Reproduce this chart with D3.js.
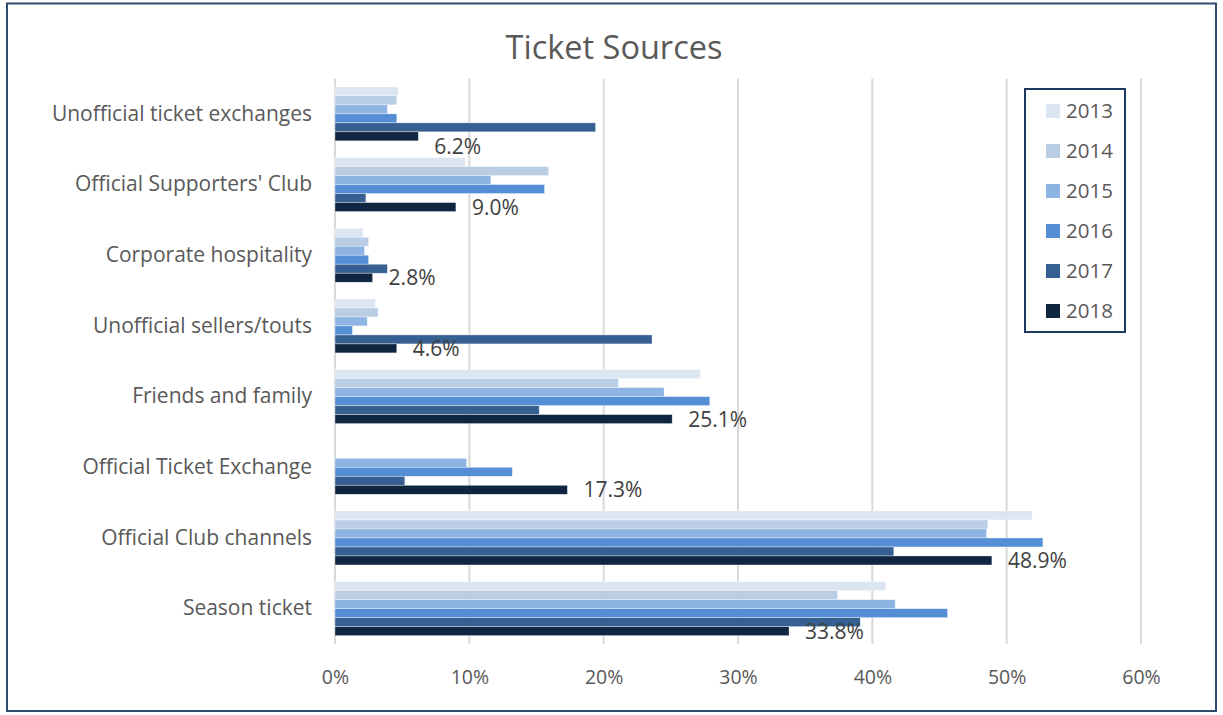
<!DOCTYPE html>
<html>
<head>
<meta charset="utf-8">
<script src="https://cdn.jsdelivr.net/npm/d3@7"></script>
<style>
  html, body { margin: 0; padding: 0; background: #fff; }
  svg { display: block; font-family: "Open Sans", "Noto Sans", sans-serif; }
</style>
</head>
<body>
<svg id="chart" width="1223" height="715"></svg>
<script>
// Ticket source shares by year (percent of respondents)
const categories = [
  "Unofficial ticket exchanges",
  "Official Supporters' Club",
  "Corporate hospitality",
  "Unofficial sellers/touts",
  "Friends and family",
  "Official Ticket Exchange",
  "Official Club channels",
  "Season ticket"
];
const years = ["2013", "2014", "2015", "2016", "2017", "2018"];
const values2013 = [4.7, 9.7, 2.1, 3.0, 27.2, null, 51.9, 41.0];
const values2014 = [4.6, 15.9, 2.5, 3.2, 21.1, null, 48.6, 37.4];
const values2015 = [3.9, 11.6, 2.2, 2.4, 24.5, 9.8, 48.5, 41.7];
const values2016 = [4.6, 15.6, 2.5, 1.3, 27.9, 13.2, 52.7, 45.6];
const values2017 = [19.4, 2.3, 3.9, 23.6, 15.2, 5.2, 41.6, 39.1];
const values2018 = [6.2, 9.0, 2.8, 4.6, 25.1, 17.3, 48.9, 33.8];
const tickValues = [0, 10, 20, 30, 40, 50, 60];
const colors = ["#DCE6F2", "#B9CDE5", "#8EB4E3", "#558ED5", "#366092", "#10253F"];

const seriesValues = [values2013, values2014, values2015, values2016, values2017, values2018];
const series = years.map((yr, i) => ({ year: yr, color: colors[i], values: seriesValues[i] }));

const svg = d3.select("#chart");

// Chart frame
svg.append("rect")
  .attr("x", 7).attr("y", 3.5)
  .attr("width", 1209).attr("height", 707.5)
  .attr("fill", "#fff")
  .attr("stroke", "#2F4B6E")
  .attr("stroke-width", 2);

// Title
svg.append("text")
  .attr("x", 614).attr("y", 59)
  .attr("text-anchor", "middle")
  .attr("fill", "#595959")
  .attr("font-size", 32.5)
  .text("Ticket Sources");

const plot = { left: 335, right: 1141, top: 78.5, bottom: 644 };

const x = d3.scaleLinear().domain([0, 60]).range([plot.left, plot.right]);
const y = d3.scaleBand().domain(categories).range([plot.top, plot.bottom])
  .paddingInner(0.236).paddingOuter(0.118);
const yInner = d3.scaleBand().domain(years).range([0, y.bandwidth()]);

// Vertical gridlines
svg.append("g")
  .selectAll("line")
  .data(tickValues)
  .join("line")
  .attr("x1", d => x(d)).attr("x2", d => x(d))
  .attr("y1", plot.top).attr("y2", plot.bottom)
  .attr("stroke", "#D9D9D9")
  .attr("stroke-width", 2);

// X axis labels
const xAxis = d3.axisBottom(x).tickValues(tickValues).tickFormat(d => d + "%").tickSize(0).tickPadding(0);
const gx = svg.append("g").attr("transform", `translate(0, 684)`).call(xAxis);
gx.select(".domain").remove();
gx.selectAll("text")
  .attr("dy", 0)
  .attr("fill", "#595959")
  .attr("font-size", 19.5)
  .attr("font-family", "'Open Sans', sans-serif");

// Category labels
const yAxis = d3.axisLeft(y).tickSize(0).tickPadding(23);
const gy = svg.append("g").attr("transform", `translate(${plot.left}, 0)`).call(yAxis);
gy.select(".domain").remove();
gy.selectAll("text")
  .attr("fill", "#595959")
  .attr("font-size", 21)
  .attr("font-family", "'Open Sans', sans-serif");

// Bars
const groups = svg.append("g")
  .selectAll("g")
  .data(categories)
  .join("g")
  .attr("transform", d => `translate(0, ${y(d)})`);

groups.selectAll("rect")
  .data((c, ci) => series.map(s => ({ year: s.year, color: s.color, value: s.values[ci] })).filter(d => d.value != null))
  .join("rect")
  .attr("x", x(0))
  .attr("y", d => yInner(d.year))
  .attr("width", d => x(d.value) - x(0))
  .attr("height", yInner.bandwidth())
  .attr("fill", d => d.color)
  .attr("stroke", "#ffffff")
  .attr("stroke-opacity", 0.6)
  .attr("stroke-width", 0.6);

// Value labels for the latest year
const lastYear = years[years.length - 1];
const labelShift = { "Unofficial ticket exchanges": 10 };
groups.append("text")
  .attr("x", (c, ci) => x(values2018[ci]) + 16)
  .attr("y", c => yInner(lastYear) + yInner.bandwidth() / 2 + (labelShift[c] || 0))
  .attr("dy", "0.36em")
  .attr("fill", "#404040")
  .attr("font-size", 21)
  .text((c, ci) => values2018[ci].toFixed(1) + "%");

// Legend
const legend = svg.append("g");
legend.append("rect")
  .attr("x", 1025).attr("y", 89)
  .attr("width", 100).attr("height", 243)
  .attr("fill", "#fff")
  .attr("stroke", "#1F3A60")
  .attr("stroke-width", 2);

const items = legend.selectAll("g.item")
  .data(series)
  .join("g")
  .attr("class", "item")
  .attr("transform", (d, i) => `translate(1046, ${111 + i * 40})`);

items.append("rect")
  .attr("x", 0).attr("y", -7)
  .attr("width", 14).attr("height", 14)
  .attr("fill", d => d.color);

items.append("text")
  .attr("x", 20).attr("y", 0)
  .attr("dy", "0.36em")
  .attr("fill", "#595959")
  .attr("font-size", 20.5)
  .text(d => d.year);
</script>
</body>
</html>
